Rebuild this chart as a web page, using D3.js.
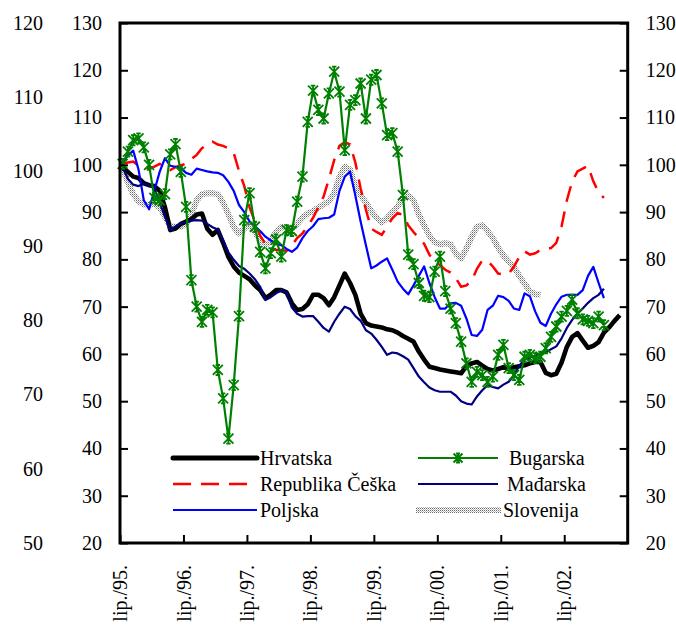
<!DOCTYPE html>
<html><head><meta charset="utf-8">
<script src="https://cdn.jsdelivr.net/npm/d3@7"></script>
<style>body{margin:0;background:#fff}svg{display:block}text{font-family:"Liberation Serif",serif;font-size:20px;fill:#000}</style>
</head><body>
<svg id="c" width="676" height="627"></svg>
<script>
const xTickLabels = ["lip./95.","lip./96.","lip./97.","lip./98.","lip./99.","lip./00.","lip./01.","lip./02."];
const yTicks = [20,30,40,50,60,70,80,90,100,110,120,130];
const yOuterTicks = [50,60,70,80,90,100,110,120];
const seriesNames = ["Hrvatska","Republika Češka","Poljska","Bugarska","Mađarska","Slovenija"];

const hrvatska = [99.3,98.5,97.5,97.2,96.1,95.7,95.5,94.5,91,86.2,86.5,87.5,88,88.5,89.5,89.7,86.5,85.2,86.2,83.5,80.5,78.5,77.2,76.5,75.8,74.5,73.5,71.8,72.5,73.5,73.5,73,70.7,69.3,69.5,70.5,72.5,72.5,71.8,70.3,72,74.5,77,75,72.5,68.5,66.5,66,65.8,65.6,65.2,65,64.5,63.8,63.2,62.6,60.5,58.8,57.3,57,56.7,56.5,56.3,56.1,55.9,57.4,58,58.3,57.5,56.8,56.5,56.8,57.2,56.8,57.2,57.4,57.6,58,58.3,58.3,56,55.5,55.8,58.2,61.5,63.6,64.4,62.8,61.3,61.7,62.5,64.5,65.6,67,68.2];
const ceska = [100.2,100.5,100.7,99.8,99.4,99.2,99.6,100.2,99.5,98.9,99.5,99.9,100.2,101.2,102.1,103.5,104.3,104.9,104.3,104,103.5,102.5,98.7,95.5,91,88,85,83.3,82.5,82,82,81.8,83,84.5,85.5,87,88.8,91,93.3,97,101,104,104.8,104.3,100.5,95,90.5,86.5,85.8,85.2,86.9,88.7,89.8,89.4,87.2,85.8,84.5,83.3,81,79.5,78.8,77.8,77.2,76,74.2,74.5,75.5,78,79.8,79.7,78.5,77,76.8,77,78.5,80.5,81.7,81,81.3,82,82.3,82.4,83.5,87,92.5,96.5,98.6,99.2,99.8,96.5,94.2,93];
const poljska = [100.5,102,103,99,92.5,90.6,94.5,98.5,101.4,99.8,99.6,99.3,98.3,97.9,99.2,98.9,98.6,98.4,98.3,97.8,96.4,94.5,91.5,90,88,87,86,84.8,84,83.3,83,82.2,81.6,82.5,84.5,86,87,88.5,88.7,88.8,89.5,94.5,97.5,98.6,93.5,88,83,78.1,78.7,79.5,80.2,77.8,75.3,73.8,72.6,74.5,76.5,78.5,75,72,69.6,69.6,70.7,70.8,70.2,67.5,64,63.8,65.1,69.3,70.2,72.3,72,71.2,69.6,69.3,72.8,72.2,69,66.6,65.9,68.5,70.5,72.1,72.5,72.5,72.5,73.5,76.5,78.4,75,71.8];
const bugarska = [100.2,102.8,105.2,105.6,103.7,100,93,92.5,93.8,102.2,104.4,98.5,91.1,75.6,70,66.8,69.3,68.8,56.6,50.6,42.1,53.4,68,88.3,94,86.9,81.6,78.1,81.3,84.2,80.6,86.2,86,92.2,97.5,109.1,115.7,111.6,109.8,115.1,119.7,115.5,103.1,112.7,113.7,117.2,109.8,118,119,113,106.3,106.7,102.8,93.6,81,79,75,72.3,72,77.4,80.6,73.3,69.6,66.5,62.6,58,54.1,56.2,55.5,54.1,55.2,59.8,61.9,57,55.5,54.5,59.4,59.8,59.1,59.4,61.2,63.6,65.8,67.9,69.1,71.5,68.6,67.3,67,66.5,67.9,66.1];
const madarska = [99.5,97,95.8,95.5,96,95.7,95,92,89,86.2,87,87.6,87.8,88.2,88.3,88.2,87.5,86.8,86.3,84,81.5,79.9,78.6,78,77,75.8,74.2,71.4,72,72.8,73.5,73,69.8,68.5,67.9,68,68,66.8,65.5,64.7,66.8,68.5,70,69.5,68,67,65,64.3,63,61.5,59.8,60.3,60.1,59.5,58.8,57,55.2,54,52.9,52.3,52,52,52,51.2,50,49.5,49.3,51,52.3,53.4,53,52.7,53.5,54.1,55.5,57.5,58.8,59.2,59.6,60,60.3,61,61.6,63.3,65.5,67.2,68.5,69.6,70.8,71.8,72.5,73.8];
const slovenija = [99.5,96.2,93.8,92.3,91.6,91.5,91.8,91,89,87,86.9,86.9,87.5,89.5,92.5,93.8,94,94,93.8,92,89.5,86.8,85.5,86.5,87.5,85.8,84,83,83.8,85.8,86.8,86.8,86.5,87.5,88.8,89.7,90.2,91,91.6,92.3,94,97.5,99.6,99,95.5,93.5,92,90.2,88.8,87.8,88.7,90,91.2,93.1,93.5,92.5,89.5,87.2,85,83.6,83.2,83.4,83.2,81.2,80.2,82.3,84.8,86.9,87.2,86,84.5,82.5,80.8,79.6,78.3,76.5,74.8,73.3,72.6,72.5];

const svg = d3.select("#c");
const L = 120, R = 627.7, T = 23, B = 543;
const x = d3.scaleLinear().domain([0,96]).range([L,R]);
const y = d3.scaleLinear().domain([20,130]).range([B,T]);
const yOuter = d3.scaleLinear().domain([50,120]).range([B,T]);

const defs = svg.append("defs");
const pat = defs.append("pattern").attr("id","hatch").attr("patternUnits","userSpaceOnUse").attr("width",2).attr("height",2);
pat.append("rect").attr("width",2).attr("height",2).attr("fill","#ffffff");
pat.append("rect").attr("x",0).attr("y",0).attr("width",1).attr("height",1).attr("fill","#6a6a6a");
pat.append("rect").attr("x",1).attr("y",1).attr("width",1).attr("height",1).attr("fill","#b5b5b5");

const line = d3.line().x((d,i)=>x(i+0.5)).y(d=>y(d));

function drawSlov(g, d){
  g.append("path").attr("d", typeof d === "string" ? d : line(d)).attr("fill","none")
   .attr("stroke","url(#hatch)").attr("stroke-width",6).attr("stroke-linejoin","round");
}
function star(sz){
  const s=sz/2, c=s*0.45;
  return `M${-s},${-s}L${s},${s}M${-s},${s}L${s},${-s}M0,${-s}L0,${s}M${-c},${-s}L${c},${-s}M${-c},${s}L${c},${s}`;
}

const plot = svg.append("g");
drawSlov(plot, slovenija);
plot.append("path").attr("d",line(hrvatska)).attr("fill","none").attr("stroke","#000").attr("stroke-width",4.6).attr("stroke-linejoin","round");
plot.append("path").attr("d",line(ceska)).attr("fill","none").attr("stroke","#ff0000").attr("stroke-width",2.5).attr("stroke-dasharray","16,10");
plot.append("path").attr("d",line(poljska)).attr("fill","none").attr("stroke","#0000ff").attr("stroke-width",2.2).attr("stroke-linejoin","round");
plot.append("path").attr("d",line(madarska)).attr("fill","none").attr("stroke","#000080").attr("stroke-width",2.2).attr("stroke-linejoin","round");
plot.append("path").attr("d",line(bugarska)).attr("fill","none").attr("stroke","#008000").attr("stroke-width",2.2).attr("stroke-linejoin","round");
plot.selectAll(".mk").data(bugarska).join("path").attr("class","mk")
  .attr("transform",(d,i)=>`translate(${x(i+0.5)},${y(d)})`)
  .attr("d",star(10)).attr("fill","none").attr("stroke","#008000").attr("stroke-width",1.8);

svg.append("rect").attr("x",L).attr("y",T).attr("width",R-L).attr("height",B-T).attr("fill","none").attr("stroke","#000").attr("stroke-width",3);

const gl = svg.append("g").attr("transform",`translate(${L},0)`)
  .call(d3.axisLeft(y).tickValues(yTicks).tickSizeInner(-8).tickSizeOuter(0).tickPadding(18));
const gr = svg.append("g").attr("transform",`translate(${R},0)`)
  .call(d3.axisRight(y).tickValues(yTicks).tickSizeInner(-8).tickSizeOuter(0).tickPadding(18));
const gb = svg.append("g").attr("transform",`translate(0,${B})`)
  .call(d3.axisBottom(x).tickValues(d3.range(0,96,12)).tickSizeInner(-8).tickSizeOuter(0).tickFormat((d,i)=>xTickLabels[i]));
const go = svg.append("g").attr("transform",`translate(43,0)`)
  .call(d3.axisLeft(yOuter).tickValues(yOuterTicks).tickSize(0).tickPadding(0));
[gl,gr,gb,go].forEach(g=>{
  g.attr("font-family",null).attr("font-size",null);
  g.select(".domain").attr("stroke","none");
  g.selectAll(".tick line").attr("stroke","#000").attr("stroke-width",2);
  g.selectAll("text").attr("fill","#000");
});
gb.selectAll(".tick text").attr("transform","rotate(-90)").attr("text-anchor","end")
  .attr("x",-22).attr("y",0).attr("dy","0.33em");

const lg = svg.append("g");
const leg = [
  {n:seriesNames[0], x1:173, x2:257, y:458, tx:260, type:"hr"},
  {n:seriesNames[1], x1:173, x2:257, y:484, tx:260, type:"cz"},
  {n:seriesNames[2], x1:173, x2:257, y:510, tx:260, type:"pl"},
  {n:seriesNames[3], x1:418, x2:498, y:458, tx:509, type:"bg"},
  {n:seriesNames[4], x1:418, x2:498, y:484, tx:507, type:"hu"},
  {n:seriesNames[5], x1:416, x2:501, y:510, tx:503, type:"si"}
];
leg.forEach(e=>{
  if(e.type==="si"){
    drawSlov(lg, `M${e.x1},${e.y}L${e.x2},${e.y}`);
  } else {
    const p = lg.append("line").attr("x1",e.x1).attr("x2",e.x2).attr("y1",e.y).attr("y2",e.y);
    if(e.type==="hr") p.attr("stroke","#000").attr("stroke-width",5).attr("stroke-linecap","round");
    if(e.type==="cz") p.attr("stroke","#ff0000").attr("stroke-width",2.5).attr("stroke-dasharray","18,10");
    if(e.type==="pl") p.attr("stroke","#0000ff").attr("stroke-width",2.2);
    if(e.type==="hu") p.attr("stroke","#000080").attr("stroke-width",2.2);
    if(e.type==="bg"){
      p.attr("stroke","#008000").attr("stroke-width",2.2);
      lg.append("path").attr("transform",`translate(${(e.x1+e.x2)/2},${e.y})`).attr("d",star(9)).attr("fill","none").attr("stroke","#008000").attr("stroke-width",2);
    }
  }
  lg.append("text").attr("x",e.tx).attr("y",e.y).attr("dy","0.35em").text(e.n);
});
</script>
</body></html>
